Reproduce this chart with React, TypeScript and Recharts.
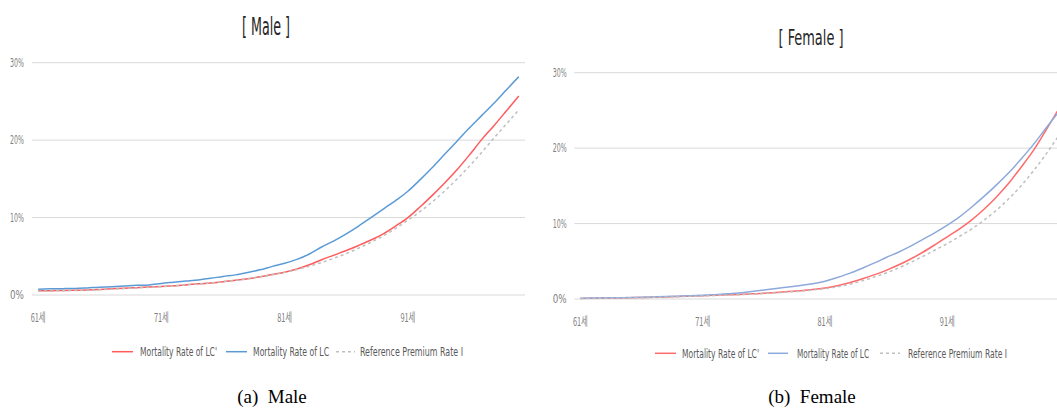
import React from "react";
import { LineChart, Line, XAxis, YAxis, CartesianGrid } from "recharts";

// Ages 61..100
const ages: number[] = Array.from({ length: 40 }, (_, i) => 61 + i);

// Male mortality (%)
const maleLCPrime: number[] = [
  0.55, 0.55, 0.58, 0.6, 0.65, 0.72, 0.8, 0.88, 0.95, 1.02,
  1.1, 1.2, 1.3, 1.45, 1.55, 1.7, 1.9, 2.1, 2.35, 2.65,
  2.95, 3.35, 3.9, 4.55, 5.15, 5.75, 6.4, 7.1, 7.9, 8.9,
  10.0, 11.4, 12.9, 14.5, 16.2, 18.1, 20.1, 21.9, 23.8, 25.7,
];
const maleLC: number[] = [
  0.75, 0.8, 0.82, 0.85, 0.92, 1.0, 1.05, 1.15, 1.25, 1.3,
  1.5, 1.65, 1.8, 1.95, 2.15, 2.4, 2.6, 2.9, 3.25, 3.7,
  4.1, 4.6, 5.3, 6.2, 7.0, 7.9, 8.9, 10.0, 11.1, 12.2,
  13.4, 14.9, 16.5, 18.2, 19.9, 21.6, 23.2, 24.8, 26.5, 28.2,
];
const maleRef: number[] = [
  0.5, 0.52, 0.55, 0.58, 0.62, 0.68, 0.75, 0.83, 0.92, 1.0,
  1.08, 1.18, 1.3, 1.42, 1.56, 1.72, 1.9, 2.1, 2.35, 2.62,
  2.93, 3.3, 3.72, 4.2, 4.75, 5.35, 6.05, 6.8, 7.65, 8.6,
  9.65, 10.8, 12.05, 13.45, 15.0, 16.65, 18.45, 20.3, 22.1, 23.9,
];

// Female mortality (%)
const femaleLCPrime: number[] = [
  0.08, 0.1, 0.12, 0.14, 0.17, 0.2, 0.24, 0.28, 0.33, 0.38,
  0.44, 0.5, 0.55, 0.6, 0.68, 0.76, 0.86, 0.98, 1.1, 1.25,
  1.45, 1.75, 2.15, 2.65, 3.2, 3.8, 4.5, 5.3, 6.2, 7.2,
  8.25, 9.3, 10.5, 11.9, 13.5, 15.3, 17.4, 19.6, 22.2, 24.9,
];
const femaleLC: number[] = [
  0.1, 0.12, 0.15, 0.17, 0.2, 0.24, 0.28, 0.33, 0.38, 0.44,
  0.5, 0.58, 0.68, 0.8, 0.98, 1.18, 1.4, 1.6, 1.8, 2.02,
  2.35, 2.85, 3.4, 4.05, 4.75, 5.5, 6.2, 7.0, 7.9, 8.8,
  9.8, 10.9, 12.2, 13.6, 15.1, 16.7, 18.5, 20.4, 22.5, 24.6,
];
const femaleRef: number[] = [
  0.07, 0.08, 0.1, 0.12, 0.15, 0.18, 0.22, 0.26, 0.3, 0.35,
  0.4, 0.46, 0.52, 0.58, 0.65, 0.73, 0.82, 0.93, 1.05, 1.2,
  1.38, 1.62, 1.95, 2.4, 2.9, 3.45, 4.1, 4.85, 5.65, 6.5,
  7.35, 8.3, 9.3, 10.45, 11.75, 13.25, 14.95, 16.9, 19.05, 21.4,
];

const yTicks: number[] = [0, 10, 20, 30];
const seriesNames: string[] = [
  "Mortality Rate of LC'",
  "Mortality Rate of LC",
  "Reference Premium Rate I",
];

const maleData = ages.map((age, i) => ({
  age,
  lcPrime: maleLCPrime[i],
  lc: maleLC[i],
  ref: maleRef[i],
}));
const femaleData = ages.map((age, i) => ({
  age,
  lcPrime: femaleLCPrime[i],
  lc: femaleLC[i],
  ref: femaleRef[i],
}));

const NARROW = "'Liberation Sans Narrow', 'DejaVu Sans Condensed', 'Liberation Sans', sans-serif";
const KR = "'Noto Sans CJK KR', 'Liberation Sans Narrow', sans-serif";

type SeriesStyle = { key: string; color: string; dash?: string };

const maleStyles: SeriesStyle[] = [
  { key: "lcPrime", color: "#FF5B5B" },
  { key: "lc", color: "#5B9BD5" },
  { key: "ref", color: "#BFBFBF", dash: "3 3" },
];
const femaleStyles: SeriesStyle[] = [
  { key: "lcPrime", color: "#FF6A6A" },
  { key: "lc", color: "#8EA9DB" },
  { key: "ref", color: "#BFBFBF", dash: "3 3" },
];

const YTick = (props: any) => {
  const { x, y, payload } = props;
  return (
    <text
      x={x}
      y={y + 4}
      textAnchor="end"
      fontFamily={NARROW}
      fontSize={12}
      fill="#7F7F7F"
      textLength={14}
      lengthAdjust="spacingAndGlyphs"
    >
      {`${payload.value}%`}
    </text>
  );
};

const XTick = (props: any) => {
  const { x, y, payload } = props;
  return (
    <text
      x={x}
      y={y + 27}
      textAnchor="middle"
      fontFamily={KR}
      fontSize={12}
      fill="#7F7F7F"
      textLength={15}
      lengthAdjust="spacingAndGlyphs"
    >
      {`${payload.value}세`}
    </text>
  );
};

type PanelProps = {
  data: any[];
  styles: SeriesStyle[];
  width: number;
  yAxisWidth: number;
  top: number;
  bottom: number;
  right: number;
  pad: number;
  tickGap: number;
};

const Panel = ({ data, styles, width, yAxisWidth, top, bottom, right, pad, tickGap }: PanelProps) => (
  <LineChart
    width={width}
    height={409}
    data={data}
    margin={{ top, right, left: 0, bottom }}
  >
    <CartesianGrid vertical={false} stroke="#D9D9D9" strokeWidth={1} />
    <XAxis
      dataKey="age"
      type="category"
      interval={9}
      axisLine={false}
      tickLine={false}
      tickSize={0}
      tickMargin={0}
      height={30}
      padding={{ left: pad, right: pad }}
      tick={<XTick />}
    />
    <YAxis
      domain={[0, 30]}
      ticks={yTicks}
      width={yAxisWidth}
      axisLine={false}
      tickLine={false}
      tickSize={0}
      tickMargin={tickGap}
      tick={<YTick />}
    />
    {styles.map((s, i) => (
      <Line
        key={s.key}
        dataKey={s.key}
        name={seriesNames[i]}
        type="monotone"
        stroke={s.color}
        strokeWidth={1.5}
        strokeDasharray={s.dash}
        dot={false}
        activeDot={false}
        isAnimationActive={false}
      />
    ))}
  </LineChart>
);

type LegendSlot = { lineX: number; lineW: number; textX: number; textW: number };

const maleLegend: LegendSlot[] = [
  { lineX: 112, lineW: 21, textX: 140, textW: 77 },
  { lineX: 226, lineW: 21, textX: 253, textW: 76 },
  { lineX: 336, lineW: 19, textX: 360, textW: 103 },
];
const femaleLegend: LegendSlot[] = [
  { lineX: 655, lineW: 21, textX: 682, textW: 77 },
  { lineX: 768, lineW: 20, textX: 797, textW: 72 },
  { lineX: 880, lineW: 20, textX: 908, textW: 99 },
];

const LegendRow = ({ slots, styles, y }: { slots: LegendSlot[]; styles: SeriesStyle[]; y: number }) => (
  <g>
    {slots.map((s, i) => (
      <g key={i}>
        <line
          x1={s.lineX}
          x2={s.lineX + s.lineW}
          y1={y}
          y2={y}
          stroke={styles[i].color}
          strokeWidth={1.5}
          strokeDasharray={styles[i].dash}
        />
        <text
          x={s.textX}
          y={y + 4.5}
          fontFamily={NARROW}
          fontSize={12.5}
          fill="#595959"
          textLength={s.textW}
          lengthAdjust="spacingAndGlyphs"
        >
          {seriesNames[i]}
        </text>
      </g>
    ))}
  </g>
);

export default function App() {
  return (
    <div
      style={{
        position: "absolute",
        left: 0,
        top: 0,
        width: 1057,
        height: 409,
        overflow: "hidden",
        background: "#ffffff",
      }}
    >
      <div style={{ position: "absolute", left: 0, top: 0 }}>
        <Panel
          data={maleData}
          styles={maleStyles}
          width={530}
          yAxisWidth={32}
          top={62.7}
          bottom={84}
          right={5}
          pad={6.17}
          tickGap={8}
        />
      </div>
      <div style={{ position: "absolute", left: 530, top: 0 }}>
        <Panel
          data={femaleData}
          styles={femaleStyles}
          width={539}
          yAxisWidth={44.3}
          top={72.7}
          bottom={80}
          right={5.5}
          pad={6.115}
          tickGap={7.6}
        />
      </div>
      <svg
        width={1057}
        height={409}
        style={{ position: "absolute", left: 0, top: 0, pointerEvents: "none" }}
      >
        <text
          x={266}
          y={35}
          textAnchor="middle"
          fontFamily={NARROW}
          fontSize={25}
          fill="#262626"
          textLength={48}
          lengthAdjust="spacingAndGlyphs"
        >
          [ Male ]
        </text>
        <text
          x={811}
          y={45}
          textAnchor="middle"
          fontFamily={NARROW}
          fontSize={22}
          fill="#262626"
          textLength={65}
          lengthAdjust="spacingAndGlyphs"
        >
          [ Female ]
        </text>
        <LegendRow slots={maleLegend} styles={maleStyles} y={351.7} />
        <LegendRow slots={femaleLegend} styles={femaleStyles} y={353.3} />
      </svg>
      <div
        style={{
          position: "absolute",
          left: 172,
          width: 200,
          top: 386,
          textAlign: "center",
          fontFamily: "'Liberation Serif', 'DejaVu Serif', serif",
          fontSize: 19,
          lineHeight: "22px",
          color: "#000",
          whiteSpace: "pre",
        }}
      >
        {"(a)  Male"}
      </div>
      <div
        style={{
          position: "absolute",
          left: 712,
          width: 200,
          top: 386,
          textAlign: "center",
          fontFamily: "'Liberation Serif', 'DejaVu Serif', serif",
          fontSize: 19,
          lineHeight: "22px",
          color: "#000",
          whiteSpace: "pre",
        }}
      >
        {"(b)  Female"}
      </div>
    </div>
  );
}
